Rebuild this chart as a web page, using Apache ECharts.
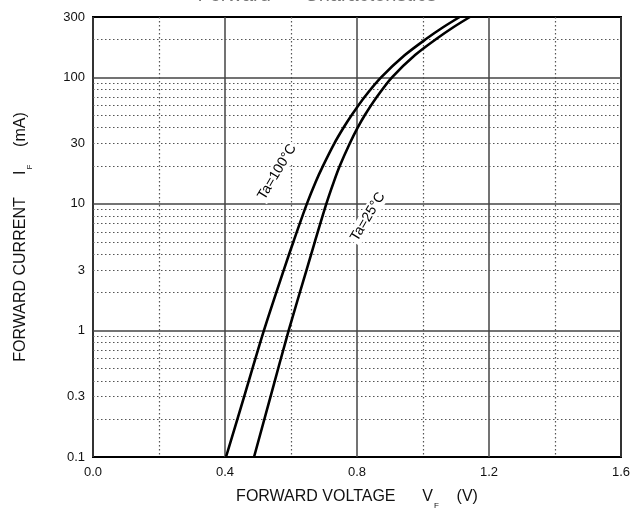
<!DOCTYPE html>
<html><head><meta charset="utf-8">
<script src="https://cdn.jsdelivr.net/npm/echarts@6/dist/echarts.min.js"></script>
<style>html,body{margin:0;padding:0;background:#fff}#c{width:634px;height:508px}</style>
</head><body><div id="c"></div>
<script>
// Forward current IF (mA) and forward voltage VF (V)
const currents = [0.1, 0.3, 1, 3, 5, 10, 15, 20, 30, 40, 50, 70, 100, 150, 200, 250, 300];
const vf100 = [0.403, 0.458, 0.518, 0.578, 0.607, 0.648, 0.675, 0.697, 0.731, 0.759, 0.783, 0.823, 0.873, 0.945, 1.008, 1.062, 1.111];
const vf25  = [0.488, 0.538, 0.593, 0.647, 0.672, 0.707, 0.730, 0.748, 0.778, 0.802, 0.823, 0.860, 0.906, 0.976, 1.039, 1.093, 1.142];
const seriesNames = ['Ta=100°C', 'Ta=25°C'];
const yLabelValues = [0.1, 0.3, 1, 3, 10, 30, 100, 300];
const yMajorValues = [1, 10, 100];
const yMinorValues = [0.2, 0.3, 0.4, 0.5, 0.6, 0.7, 0.8, 0.9,
                      2, 3, 4, 5, 6, 7, 8, 9,
                      20, 30, 40, 50, 60, 70, 80, 90, 200];
const yEdgeValues = [0.1, 300];

const FONT = "'Liberation Sans', Arial, sans-serif";
const dotted = { type: [1.5, 2.5], width: 1.2, color: '#555' };
const solid = { type: 'solid', width: 1.5, color: '#444' };

function lbl(v) {
  return { show: yLabelValues.includes(v), position: 'start', distance: 8,
           formatter: String(v), color: '#111', fontSize: 13, fontFamily: FONT };
}
const markData = [];
yMinorValues.forEach(v => markData.push({ yAxis: v, lineStyle: dotted, label: lbl(v) }));
yMajorValues.forEach(v => markData.push({ yAxis: v, lineStyle: solid, label: lbl(v) }));
yEdgeValues.forEach(v => markData.push({ yAxis: v, lineStyle: { color: 'rgba(0,0,0,0)', width: 1 }, label: lbl(v) }));

const chart = echarts.init(document.getElementById('c'), null, { renderer: 'canvas' });
const curveLabel = (rot) => ({
  show: true, position: 'inside', rotate: rot, color: '#000', fontSize: 14,
  fontFamily: FONT, backgroundColor: '#fff', padding: [1, 2]
});
chart.setOption({
  animation: false,
  backgroundColor: '#fff',
  graphic: [{
    type: 'text', left: 'center', top: -15, z: 10,
    style: { text: 'Forward      Characteristics', fontSize: 20, fontFamily: FONT, fill: '#777' }
  }],
  grid: { left: 93, right: 13, top: 17, bottom: 51, show: true, borderColor: '#000',
          borderWidth: 2, backgroundColor: 'transparent', outerBoundsMode: 'none', containLabel: false },
  xAxis: {
    type: 'value', min: 0, max: 1.6, interval: 0.4,
    axisLine: { show: false }, axisTick: { show: false },
    axisLabel: { formatter: v => v.toFixed(1), color: '#111', fontSize: 13, fontFamily: FONT, margin: 9 },
    splitLine: { show: true, lineStyle: solid },
    minorTick: { show: false, splitNumber: 2 },
    minorSplitLine: { show: true, lineStyle: dotted },
    name: 'FORWARD VOLTAGE      V{s|F}    (V)',
    nameLocation: 'middle', nameGap: 31,
    nameTextStyle: { color: '#111', fontSize: 16, fontFamily: FONT, lineHeight: 18,
      rich: { s: { fontSize: 8, fontFamily: FONT, color: '#111', verticalAlign: 'bottom', lineHeight: 8, padding: [0, 0, -4, 1] } } }
  },
  yAxis: {
    type: 'log', logBase: 10, min: 0.1, max: 300,
    axisLine: { show: false }, axisTick: { show: false }, axisLabel: { show: false },
    splitLine: { show: false },
    name: 'FORWARD CURRENT     I{s|F}    (mA)',
    nameLocation: 'middle', nameGap: 63, nameRotate: 90,
    nameTextStyle: { color: '#111', fontSize: 16, fontFamily: FONT, lineHeight: 18,
      rich: { s: { fontSize: 8, fontFamily: FONT, color: '#111', verticalAlign: 'bottom', lineHeight: 8, padding: [0, 0, -4, 1] } } }
  },
  series: [
    {
      name: seriesNames[0], type: 'line', smooth: 0.3, showSymbol: false, symbol: 'none',
      data: currents.map((c, i) => [vf100[i], c]),
      lineStyle: { color: '#000', width: 2.6 }, z: 3,
      markLine: { silent: true, symbol: 'none', z: 1, animation: false, data: markData },
      markPoint: { symbol: 'circle', symbolSize: 0, z: 6, animation: false,
        data: [{ coord: [0.558, 17.9], label: Object.assign(curveLabel(59), { formatter: seriesNames[0] }) }] }
    },
    {
      name: seriesNames[1], type: 'line', smooth: 0.3, showSymbol: false, symbol: 'none',
      data: currents.map((c, i) => [vf25[i], c]),
      lineStyle: { color: '#000', width: 2.6 }, z: 3,
      markPoint: { symbol: 'circle', symbolSize: 0, z: 6, animation: false,
        data: [{ coord: [0.833, 7.9], label: Object.assign(curveLabel(59), { formatter: seriesNames[1] }) }] }
    }
  ]
});
</script></body></html>
